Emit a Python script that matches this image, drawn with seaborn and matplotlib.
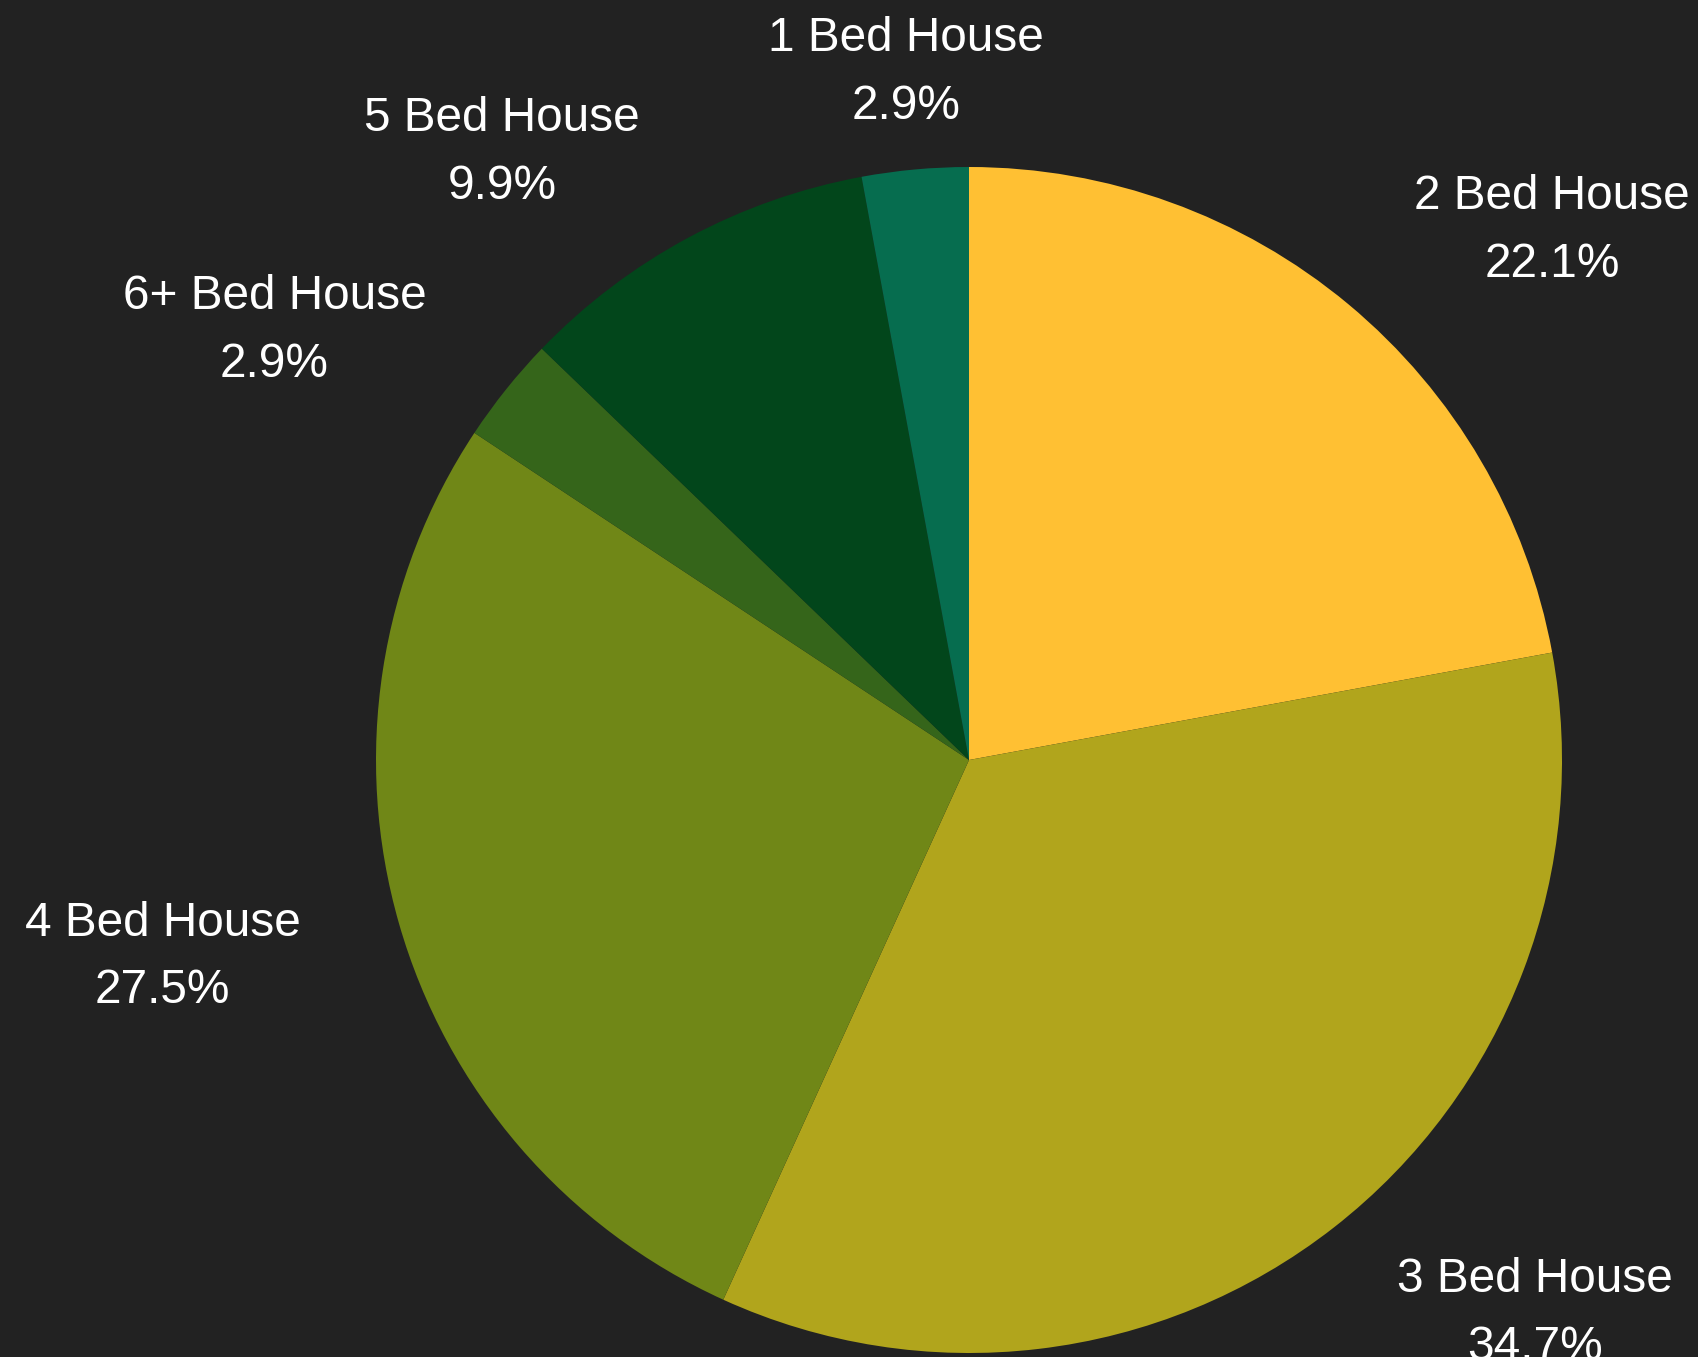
import numpy as np
import matplotlib
matplotlib.use("Agg")
import matplotlib.pyplot as plt
import seaborn as sns

# Data (share of listings, clockwise from 12 o'clock)
categories = ["2 Bed House", "3 Bed House", "4 Bed House", "6+ Bed House", "5 Bed House", "1 Bed House"]
shares = [22.1, 34.7, 27.5, 2.9, 9.9, 2.9]
slice_colors = ["#FFC033", "#B1A51C", "#708717", "#35651A", "#02461B", "#066D4F"]

BG = "#222222"

sns.set_theme(style="dark", rc={"figure.facecolor": BG, "axes.facecolor": BG})
plt.rcParams["font.family"] = ["Liberation Sans", "DejaVu Sans"]

fig = plt.figure(figsize=(16.99, 13.57), dpi=100)
fig.patch.set_facecolor(BG)

# pie centre ~ (969, 760) px, radius ~593 px
cx, cy, r = 969, 760, 593
W, H = 1699, 1357
ax = fig.add_axes([(cx - r) / W, (H - cy - r) / H, 2 * r / W, 2 * r / H])
ax.set_facecolor(BG)

palette = sns.color_palette(slice_colors)
wedges, _ = ax.pie(
    shares,
    colors=palette,
    startangle=90,
    counterclock=False,
    radius=1.0,
    wedgeprops=dict(linewidth=0),
)
ax.set_xlim(-1, 1)
ax.set_ylim(-1, 1)
ax.set_aspect("equal")
ax.axis("off")

# outside labels: name + percentage
label_dist = 1.173
for w, name, val in zip(wedges, categories, shares):
    ang = np.deg2rad((w.theta1 + w.theta2) / 2)
    x, y = np.cos(ang) * label_dist, np.sin(ang) * label_dist
    if abs(np.cos(ang)) < 0.2:
        ha = "center"
    elif x > 0:
        ha = "left"
    else:
        ha = "right"
    ax.text(
        x, y - 0.0085, f"{name}\n{val:.1f}%",
        ha=ha, va="center", multialignment="center",
        color="white", fontsize=34.4, linespacing=1.65,
        clip_on=False,
    )

fig.savefig("out.png", dpi=100, facecolor=BG)
